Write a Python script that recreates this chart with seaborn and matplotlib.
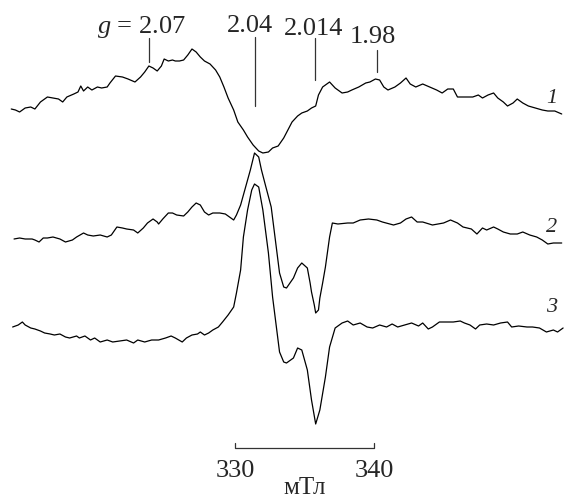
import numpy as np
import pandas as pd
import matplotlib
matplotlib.use("Agg")
import matplotlib.pyplot as plt
import seaborn as sns

# ---- data: EPR spectra, field in mT, intensity in arbitrary units ----
field_1 = [313.9, 314.2, 314.5, 314.9, 315.3, 315.6, 316.0, 316.5, 316.9, 317.3, 317.6, 317.9, 318.4, 318.7,
           318.9, 319.1, 319.4, 319.7, 320.1, 320.4, 320.8, 321.0, 321.4, 321.9, 322.3, 322.8, 323.2, 323.5,
           323.8, 324.1, 324.4, 324.7, 324.9, 325.2, 325.5, 325.7, 326.0, 326.3, 326.6, 326.9, 327.2, 327.5,
           327.8, 328.2, 328.6, 328.9, 329.2, 329.5, 329.9, 330.2, 330.6, 330.9, 331.3, 331.7, 332.0, 332.4,
           332.7, 333.1, 333.5, 333.8, 334.1, 334.5, 334.8, 335.2, 335.5, 335.8, 336.0, 336.3, 336.8, 337.2,
           337.7, 338.1, 338.4, 338.9, 339.4, 339.7, 340.1, 340.4, 340.7, 341.0, 341.5, 341.9, 342.3, 342.6,
           343.0, 343.5, 344.0, 344.5, 344.9, 345.3, 345.7, 346.0, 346.6, 347.1, 347.5, 347.8, 348.2, 348.6,
           348.9, 349.3, 349.6, 350.0, 350.3, 350.7, 351.1, 351.6, 352.1, 352.5, 353.0, 353.5]
signal_1 = [-1, -2, -4, 0, 1, -1, 6, 11, 10, 9, 6, 11, 14, 16,
            22, 17, 21, 18, 21, 20, 21, 25, 32, 31, 29, 26, 31, 36,
            42, 40, 37, 42, 49, 47, 48, 47, 47, 48, 53, 59, 56, 51,
            47, 44, 38, 31, 21, 10, -2, -14, -22, -29, -37, -43, -45, -44,
            -40, -38, -30, -22, -14, -8, -5, -3, 0, 2, 13, 21, 26, 20,
            15, 16, 18, 21, 25, 26, 29, 28, 21, 18, 21, 25, 30, 24,
            21, 24, 21, 18, 15, 19, 19, 11, 11, 11, 13, 10, 13, 15,
            10, 6, 2, 5, 9, 5, 2, 0, -2, -3, -3, -6]

field_2 = [314.1, 314.5, 314.9, 315.4, 315.6, 315.9, 316.2, 316.5, 316.9, 317.4, 317.8, 318.3, 318.6, 319.1,
           319.4, 319.8, 320.3, 320.8, 321.1, 321.5, 321.9, 322.2, 322.7, 323.0, 323.4, 323.7, 324.1, 324.4,
           324.5, 324.8, 325.2, 325.5, 325.8, 326.3, 326.6, 326.9, 327.2, 327.5, 327.8, 328.1, 328.4, 328.9,
           329.3, 329.6, 329.9, 330.1, 330.4, 330.7, 331.1, 331.4, 331.7, 331.9, 332.2, 332.6, 332.9, 333.2,
           333.5, 333.7, 334.2, 334.5, 334.8, 335.2, 335.4, 335.5, 335.7, 335.8, 336.0, 336.1, 336.3, 336.5,
           336.7, 336.8, 337.0, 337.4, 338.1, 338.5, 339.0, 339.6, 340.2, 340.6, 341.4, 341.9, 342.3, 342.7,
           343.1, 343.5, 344.2, 345.0, 345.5, 346.0, 346.4, 347.0, 347.4, 347.8, 348.1, 348.6, 348.9, 349.3,
           349.8, 350.3, 350.7, 351.2, 351.7, 352.1, 352.5, 352.9, 353.5]
signal_2 = [0, 1, 0, 0, -1, -3, 1, 1, 2, 0, -3, -1, 2, 6,
            4, 3, 4, 2, 4, 12, 11, 10, 9, 6, 11, 16, 20, 17,
            15, 20, 26, 26, 24, 23, 27, 32, 36, 34, 27, 24, 26, 26,
            25, 22, 19, 24, 34, 49, 69, 86, 82, 69, 53, 32, -1, -34,
            -48, -49, -39, -29, -24, -29, -44, -53, -66, -74, -71, -59, -44, -28,
            -8, 2, 16, 15, 16, 16, 19, 20, 19, 17, 14, 16, 20, 22,
            17, 17, 14, 16, 19, 16, 12, 10, 5, 11, 9, 12, 10, 7,
            5, 5, 7, 4, 2, -1, -5, -4, -4]

field_3 = [314.0, 314.4, 314.7, 314.9, 315.3, 315.6, 316.0, 316.3, 316.7, 317.0, 317.4, 317.8, 318.1, 318.6,
           318.8, 319.2, 319.6, 319.9, 320.3, 320.8, 321.2, 321.7, 322.2, 322.7, 323.0, 323.5, 324.0, 324.5,
           325.0, 325.4, 325.7, 326.2, 326.5, 326.9, 327.3, 327.5, 327.8, 328.1, 328.4, 328.8, 329.1, 329.5,
           329.9, 330.1, 330.4, 330.6, 330.9, 331.2, 331.4, 331.7, 332.0, 332.4, 332.7, 333.0, 333.2, 333.5,
           333.7, 334.2, 334.5, 334.8, 335.2, 335.5, 335.8, 336.1, 336.5, 336.8, 337.2, 337.7, 338.1, 338.5,
           339.0, 339.5, 339.9, 340.4, 340.9, 341.3, 341.7, 342.2, 342.7, 343.2, 343.5, 343.9, 344.2, 344.7,
           345.2, 345.7, 346.2, 346.5, 346.9, 347.3, 347.6, 348.1, 348.6, 349.1, 349.6, 349.9, 350.4, 351.0,
           351.4, 351.9, 352.4, 352.9, 353.2, 353.6]
signal_3 = [0, 2, 5, 2, -1, -2, -4, -6, -7, -8, -7, -10, -11, -9,
            -11, -9, -13, -11, -15, -13, -15, -14, -13, -16, -13, -15, -13, -13,
            -11, -9, -11, -15, -11, -8, -7, -5, -8, -6, -3, 0, 5, 12,
            20, 34, 57, 90, 117, 137, 143, 140, 117, 74, 30, -3, -25, -35,
            -36, -31, -21, -23, -43, -73, -97, -83, -50, -20, -1, 4, 6, 2,
            4, 0, -1, 2, 0, 3, 0, 2, 4, 1, 4, -2, 0, 5,
            5, 5, 6, 4, 2, -2, 2, 3, 2, 4, 5, 0, 1, 0,
            0, -1, -5, -3, -5, -1]

curve_labels = ["1", "2", "3"]
curve_offsets = [-108, -239, -327]

g_values = ["$g$ = 2.07", "2.04", "2.014", "1.98"]
g_fields = [323.8, 331.4, 335.75, 340.2]

scale_ticks = [330, 340]
unit_label = "мТл"

# ---- build long table ----
frames = []
for lab, f, s, off in zip(curve_labels, [field_1, field_2, field_3],
                          [signal_1, signal_2, signal_3], curve_offsets):
    frames.append(pd.DataFrame({"field": f, "signal": np.array(s) + off, "curve": lab}))
df = pd.concat(frames, ignore_index=True)

sns.set_style("white")
plt.rcParams["font.family"] = ["Liberation Serif", "DejaVu Serif"]
plt.rcParams["mathtext.fontset"] = "custom"
plt.rcParams["mathtext.it"] = "Liberation Serif:italic"
plt.rcParams["mathtext.rm"] = "Liberation Serif"

fig = plt.figure(figsize=(5.66, 5.0), dpi=100)
ax = fig.add_axes([0, 0, 1, 1])
sns.lineplot(data=df, x="field", y="signal", units="curve", estimator=None, sort=False,
             color="black", linewidth=0.9, ax=ax, legend=False)

x0 = 313.09
ax.set_xlim(x0, x0 + 566 * 0.07194)
ax.set_ylim(-500, 0)
ax.axis("off")

# g-value markers
tick_spans = [(-38, -62), (-37, -106), (-38, -80), (-50, -72)]
label_pos = [(323.27, -33), (331.08, -32), (335.68, -35), (339.92, -43)]
for gf, (y1, y2) in zip(g_fields, tick_spans):
    ax.plot([gf, gf], [y1, y2], color="#333333", linewidth=0.9)
for txt, (lx, ly) in zip(g_values, label_pos):
    ax.text(lx, ly, txt, ha="center", va="baseline", fontsize=19)

# curve labels
label_y = [-103, -232, -312]
for lab, ly in zip(curve_labels, label_y):
    ax.text(352.8, ly, lab, ha="center", va="baseline", fontsize=16, style="italic")

# scale bar
ax.plot([scale_ticks[0], scale_ticks[0], scale_ticks[1], scale_ticks[1]],
        [-443, -448, -448, -443], color="#333333", linewidth=0.9)
for t in scale_ticks:
    ax.text(t, -477, str(t), ha="center", va="baseline", fontsize=19)
ax.text(335.0, -499, unit_label, ha="center", va="bottom", fontsize=18)

fig.savefig("out.png", dpi=100)
